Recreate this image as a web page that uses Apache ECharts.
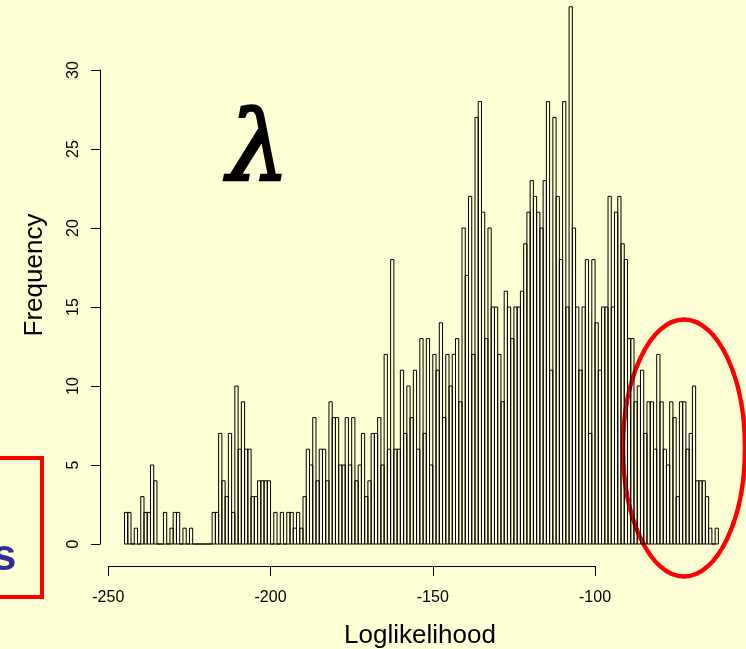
<!DOCTYPE html>
<html>
<head>
<meta charset="utf-8">
<script src="https://cdn.jsdelivr.net/npm/echarts@6/dist/echarts.min.js"></script>
<style>
html,body{margin:0;padding:0;background:#FEFED5;}
#chart{width:746px;height:649px;}
</style>
</head>
<body>
<div id="chart"></div>
<script>
// Histogram bins (left edges, width 1) and counts
const binStart = -245;
const binWidth = 1;
const counts = [
  2,2,0,1,0,3,2,2,5,4,0,0,2,0,1,2,2,0,1,0,1,        // -245 .. -225
  0,0,0,0,0,0,2,2,7,4,3,7,2,10,6,9,6,6,3,3,4,4,4,4,0, // -224 .. -200
  2,0,2,0,2,2,1,2,1,3,6,5,8,4,6,6,4,9,8,8,5,5,8,5,8, // -199 .. -175
  4,5,7,3,4,7,7,8,5,12,6,18,6,6,11,7,10,8,11,6,      // -174 .. -155
  13,7,13,5,12,11,14,8,12,10,12,13,9,20,17,22,12,27,28, // -154 .. -136
  21,13,20,15,15,12,9,16,15,13,15,15,16,19,21,23,22,  // -135 .. -119
  21,20,23,28,11,27,22,18,28,15,34,20,15,11,15,18,7,18, // -118 .. -101
  14,11,15,15,22,15,21,22,19,18,13,13,9,10,11,7,9,9,6,12, // -100 .. -81
  9,6,5,9,8,3,9,9,6,7,10,4,4,4,3,1,0,1                // -80 .. -63
];
const xTicks = [-250, -200, -150, -100];
const yTicks = [0, 5, 10, 15, 20, 25, 30];

const binData = counts.map((c, i) => [binStart + i * binWidth, c]);

const chart = echarts.init(document.getElementById('chart'), null, {renderer: 'canvas'});
const FONT = '"Liberation Sans", Arial, sans-serif';

const option = {
  backgroundColor: '#FEFED5',
  animation: false,
  grid: [
    {left: 108.3, width: 616.55, top: 0.48, height: 543.52},   // plot area (0 at y=544, 15.8 px/unit)
    {left: 108.3, width: 486.75, top: 565, height: 1},          // x axis
    {left: 100, width: 1, top: 70, height: 474}                 // y axis
  ],
  xAxis: [
    {gridIndex: 0, type: 'value', min: -250, max: -60, show: false},
    {gridIndex: 1, type: 'value', min: xTicks[0], max: xTicks[xTicks.length - 1], interval: 50,
     axisLine: {show: true, lineStyle: {color: '#000', width: 1}},
     axisTick: {show: true, length: 10, lineStyle: {color: '#000'}},
     axisLabel: {show: true, color: '#000', fontSize: 16, fontFamily: FONT, margin: 24},
     splitLine: {show: false}},
    {gridIndex: 2, type: 'value', show: false}
  ],
  yAxis: [
    {gridIndex: 0, type: 'value', min: 0, max: 34.4, show: false},
    {gridIndex: 1, type: 'value', show: false},
    {gridIndex: 2, type: 'value', min: yTicks[0], max: yTicks[yTicks.length - 1], interval: 5,
     position: 'left',
     axisLine: {show: true, lineStyle: {color: '#000', width: 1}},
     axisTick: {show: true, length: 9, lineStyle: {color: '#000'}},
     axisLabel: {show: true, color: '#000', fontSize: 16, fontFamily: FONT, rotate: 90, margin: 18},
     splitLine: {show: false}}
  ],
  series: [{
    type: 'custom',
    xAxisIndex: 0, yAxisIndex: 0,
    data: binData,
    renderItem: function (params, api) {
      const x0 = api.value(0), h = api.value(1);
      const p0 = api.coord([x0, 0]);
      const p1 = api.coord([x0 + binWidth, h]);
      return {
        type: 'rect',
        shape: {x: p0[0], y: p1[1], width: p1[0] - p0[0], height: p0[1] - p1[1]},
        style: {fill: 'none', stroke: '#000', lineWidth: 1}
      };
    }
  }],
  graphic: [
    {type: 'text', left: 226, top: 104, style: {text: 'λ', font: 'italic 98px "DejaVu Serif", serif', fill: '#000', stroke: '#000', lineWidth: 2.5}},
    {type: 'text', x: 35, y: 275, rotation: Math.PI / 2,
     style: {text: 'Frequency', font: '26px ' + FONT, fill: '#000', align: 'center', verticalAlign: 'middle'}},
    {type: 'text', x: 420, y: 636,
     style: {text: 'Loglikelihood', font: '26px ' + FONT, fill: '#000', align: 'center', verticalAlign: 'middle'}},
    {type: 'rect', shape: {x: -10, y: 458, width: 52, height: 139}, style: {fill: 'none', stroke: '#FF0000', lineWidth: 4}},
    {type: 'text', x: -8, y: 580, style: {text: 's', font: 'bold 44px ' + FONT, fill: '#2E3192', verticalAlign: 'bottom'}},
    {type: 'ellipse', shape: {cx: 684, cy: 448, rx: 61, ry: 128.5}, style: {fill: 'none', stroke: '#FF0000', lineWidth: 4.5}}
  ]
};
chart.setOption(option);
</script>
</body>
</html>
